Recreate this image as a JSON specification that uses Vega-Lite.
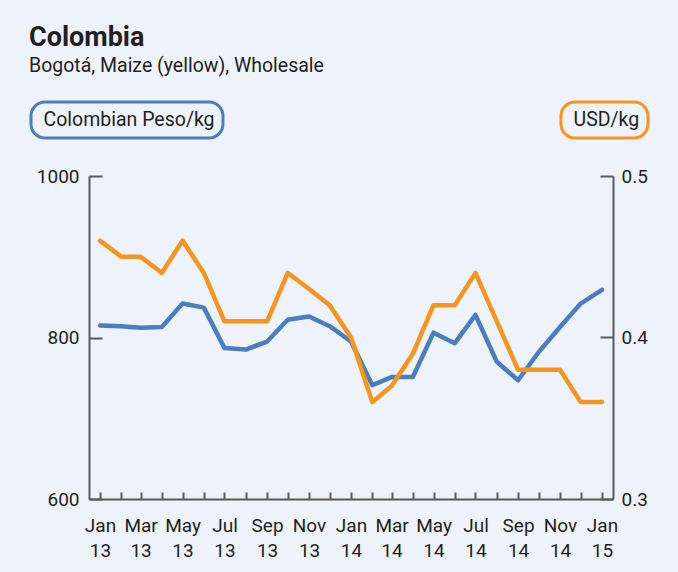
{
  "$schema": "https://vega.github.io/schema/vega-lite/v6.json",
  "autosize": {"type": "none"},
  "width": 524,
  "height": 323,
  "padding": {"left": 89, "top": 176, "right": 65, "bottom": 73},
  "background": "#EEF3FB",
  "title": {
    "text": "Colombia",
    "subtitle": "Bogotá, Maize (yellow), Wholesale",
    "anchor": "start",
    "frame": "group",
    "dx": -60,
    "font": "Roboto",
    "fontSize": 27,
    "fontWeight": "bold",
    "color": "#231F20",
    "subtitleFont": "Roboto",
    "subtitleFontSize": 19.5,
    "subtitleColor": "#231F20",
    "subtitlePadding": 5,
    "offset": 24
  },
  "data": {
    "values": [
      {"month": "2013-01-01", "peso": 815, "usd": 0.46},
      {"month": "2013-02-01", "peso": 814, "usd": 0.45},
      {"month": "2013-03-01", "peso": 812, "usd": 0.45},
      {"month": "2013-04-01", "peso": 813, "usd": 0.44},
      {"month": "2013-05-01", "peso": 842, "usd": 0.46},
      {"month": "2013-06-01", "peso": 837, "usd": 0.44},
      {"month": "2013-07-01", "peso": 787, "usd": 0.41},
      {"month": "2013-08-01", "peso": 785, "usd": 0.41},
      {"month": "2013-09-01", "peso": 795, "usd": 0.41},
      {"month": "2013-10-01", "peso": 822, "usd": 0.44},
      {"month": "2013-11-01", "peso": 826, "usd": 0.43},
      {"month": "2013-12-01", "peso": 814, "usd": 0.42},
      {"month": "2014-01-01", "peso": 795, "usd": 0.40},
      {"month": "2014-02-01", "peso": 741, "usd": 0.36},
      {"month": "2014-03-01", "peso": 751, "usd": 0.37},
      {"month": "2014-04-01", "peso": 751, "usd": 0.39},
      {"month": "2014-05-01", "peso": 806, "usd": 0.42},
      {"month": "2014-06-01", "peso": 793, "usd": 0.42},
      {"month": "2014-07-01", "peso": 828, "usd": 0.44},
      {"month": "2014-08-01", "peso": 770, "usd": 0.41},
      {"month": "2014-09-01", "peso": 747, "usd": 0.38},
      {"month": "2014-10-01", "peso": 782, "usd": 0.38},
      {"month": "2014-11-01", "peso": 813, "usd": 0.38},
      {"month": "2014-12-01", "peso": 842, "usd": 0.36},
      {"month": "2015-01-01", "peso": 859, "usd": 0.36}
    ]
  },
  "encoding": {
    "x": {
      "field": "month",
      "type": "temporal",
      "scale": {"type": "utc", "domain": ["2012-12-16", "2015-01-17"]},
      "axis": {
        "title": null,
        "tickCount": {"interval": "month", "step": 1},
        "labelExpr": "utcmonth(datum.value) % 2 == 0 ? [utcFormat(datum.value, '%b'), utcFormat(datum.value, '%y')] : ''",
        "labelOverlap": false,
        "labelFlush": false,
        "labelLineHeight": 25,
        "labelPadding": 24,
        "tickSize": -7,
        "grid": false
      }
    }
  },
  "layer": [
    {
      "mark": {"type": "line", "strokeWidth": 4.5, "strokeJoin": "round", "strokeCap": "round"},
      "encoding": {
        "y": {
          "field": "peso",
          "type": "quantitative",
          "scale": {"domain": [600, 1000], "zero": false, "nice": false},
          "axis": {"title": null, "orient": "left", "values": [600, 800, 1000], "format": "d", "tickSize": -13, "labelPadding": 23, "grid": false}
        },
        "color": {
          "datum": "Colombian Peso/kg",
          "scale": {"range": ["#4A7EBF"]},
          "legend": {"orient": "none", "legendX": -58, "legendY": -74, "strokeColor": "#4A7EBF", "cornerRadius": 14, "padding": 8, "title": null,
            "labelOffset": -15, "labelLimit": 400,
            "encode": {"legend": {"update": {"strokeWidth": {"value": 3}}}}}
        }
      }
    },
    {
      "mark": {"type": "line", "strokeWidth": 4.5, "strokeJoin": "round", "strokeCap": "round"},
      "encoding": {
        "y": {
          "field": "usd",
          "type": "quantitative",
          "scale": {"domain": [0.3, 0.5], "zero": false, "nice": false},
          "axis": {"title": null, "orient": "right", "values": [0.3, 0.4, 0.5], "format": ".1f", "tickSize": -13, "labelPadding": 21, "grid": false}
        },
        "color": {
          "datum": "USD/kg",
          "scale": {"range": ["#F7941D"]},
          "legend": {"orient": "none", "legendX": 472, "legendY": -74, "strokeColor": "#F7941D", "cornerRadius": 14, "padding": 8, "title": null,
            "labelOffset": -15, "labelLimit": 400,
            "encode": {"legend": {"update": {"strokeWidth": {"value": 3}}}}}
        }
      }
    }
  ],
  "resolve": {"scale": {"y": "independent", "color": "independent"}, "legend": {"color": "independent"}},
  "config": {
    "view": {"stroke": null},
    "font": "Roboto",
    "axis": {
      "domainColor": "#58595B",
      "domainWidth": 2,
      "tickColor": "#58595B",
      "tickWidth": 2,
      "labelFont": "Roboto",
      "labelFontSize": 19,
      "labelColor": "#231F20"
    },
    "legend": {
      "symbolOpacity": 0,
      "symbolStrokeWidth": 0,
      "labelFont": "Roboto",
      "labelFontSize": 19.5,
      "labelColor": "#231F20",
      "fillColor": "#EEF3FB"
    }
  }
}
